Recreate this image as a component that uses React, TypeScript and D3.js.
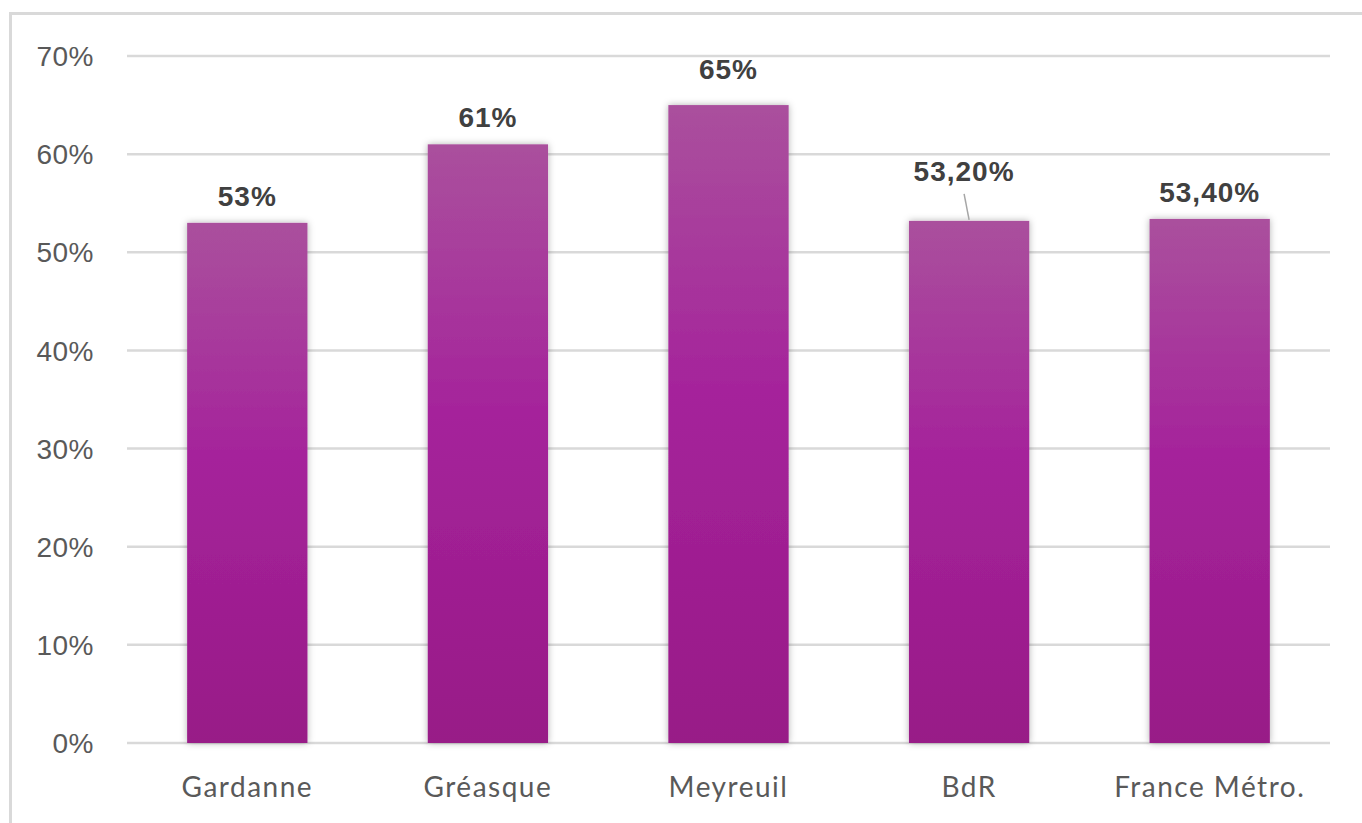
import React from "react";
import * as d3 from "d3";

const categories: string[] = ["Gardanne", "Gréasque", "Meyreuil", "BdR", "France Métro."];
const values: number[] = [0.53, 0.61, 0.65, 0.532, 0.534];
const valueLabels: string[] = ["53%", "61%", "65%", "53,20%", "53,40%"];
const yTicks: number[] = [0, 0.1, 0.2, 0.3, 0.4, 0.5, 0.6, 0.7];

const W = 1362;
const H = 823;
const plot = { left: 127, right: 1330, top: 56, bottom: 743 };

export default function App() {
  const x = d3.scaleBand<string>().domain(categories).range([plot.left, plot.right]).paddingInner(0.5).paddingOuter(0.25);
  const y = d3.scaleLinear().domain([0, 0.7]).range([plot.bottom, plot.top]);
  const fmt = d3.format(".0%");

  return (
    <svg width={W} height={H} style={{ position: "absolute", left: 0, top: 0, background: "#fff" }}>
      <defs>
        <linearGradient id="barGrad" x1="0" y1="0" x2="0" y2="1">
          <stop offset="0" stopColor="#AA509D" />
          <stop offset="0.45" stopColor="#A5239B" />
          <stop offset="1" stopColor="#981A87" />
        </linearGradient>
        <filter id="shadow" x="-20%" y="-10%" width="140%" height="120%">
          <feDropShadow dx="0" dy="0" stdDeviation="3.5" floodColor="#000" floodOpacity="0.3" />
        </filter>
      </defs>
      <rect x={10.5} y={13.5} width={W} height={H} fill="#fff" stroke="#D9D9D9" strokeWidth={3} />
      {yTicks.map((t) => (
        <g key={t}>
          <line x1={plot.left} x2={plot.right} y1={y(t)} y2={y(t)} stroke="#D9D9D9" strokeWidth={2.5} />
          <text x={94} y={y(t)} dy="0.36em" textAnchor="end" fontFamily="'Liberation Sans', Arial, sans-serif" fontSize={28} letterSpacing={0.5} fill="#595959">
            {fmt(t)}
          </text>
        </g>
      ))}
      {categories.map((c, i) => {
        const bx = x(c)!;
        const bw = x.bandwidth();
        const top = y(values[i]);
        const cx = bx + bw / 2;
        const isBdR = c === "BdR";
        const isMey = c === "Meyreuil";
        const labelY = isBdR ? top - 40 : isMey ? top - 26 : top - 17;
        return (
          <g key={c}>
            <rect x={bx} y={top} width={bw} height={plot.bottom - top} fill="url(#barGrad)" filter="url(#shadow)" />
            {isBdR && (
              <line x1={cx - 5} y1={top - 27} x2={cx} y2={top - 1} stroke="#A6A6A6" strokeWidth={1.5} />
            )}
            <text x={isBdR ? cx - 5 : cx} y={labelY} textAnchor="middle" fontFamily="'Liberation Sans', Arial, sans-serif" fontWeight="bold" fontSize={28} letterSpacing={1} fill="#404040">
              {valueLabels[i]}
            </text>
            <text x={cx} y={797} textAnchor="middle" fontFamily="Lato, 'Noto Sans', sans-serif" fontSize={28} letterSpacing={1.5} fill="#595959">
              {c}
            </text>
          </g>
        );
      })}
    </svg>
  );
}
